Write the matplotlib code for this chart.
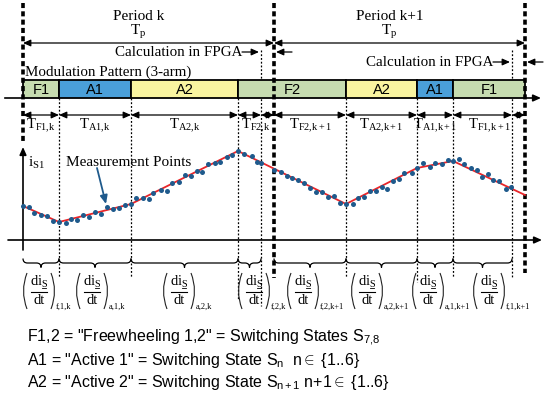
import matplotlib.pyplot as plt
from matplotlib.patches import Rectangle, PathPatch
from matplotlib.path import Path

plt.rcParams['mathtext.fontset'] = 'custom'
plt.rcParams['mathtext.rm'] = 'Liberation Serif'
plt.rcParams['mathtext.it'] = 'Liberation Serif:italic'
plt.rcParams['mathtext.sf'] = 'Liberation Sans'
plt.rcParams['mathtext.bf'] = 'Liberation Serif:bold'
SERIF = 'Liberation Serif'
SANS = 'Liberation Sans'

# time in drawing units, current as height above the time axis
period_edges = [23, 274, 525]
period_names = ['Period k', 'Period k+1']
calc_ends = [261, 512]
seg_start = [23, 59, 131, 238, 346, 417, 453]
seg_end = [59, 131, 238, 346, 417, 453, 525]
seg_names = ['F1', 'A1', 'A2', 'F2', 'A2', 'A1', 'F1']
state_colors = {'F1': '#c6dcb0', 'F2': '#c6dcb0', 'A1': '#4a9fd9', 'A2': '#f9f4a0'}

t_ranges = [(23, 59), (59, 131), (131, 238), (238, 274),
            (274, 346), (346, 417), (417, 453), (453, 525)]
t_subs = ['F1,k', 'A1,k', 'A2,k', 'F2,k', 'F2,k+1', 'A2,k+1', 'A1,k+1', 'F1,k+1']

brace_ranges = [(23, 59), (59, 131), (131, 238), (238, 261),
                (274, 346), (346, 417), (417, 453), (453, 512)]
d_subs = ['f,1,k', 'a,1,k', 'a,2,k', 'f,2,k', 'f,2,k+1', 'a,2,k+1', 'a,1,k+1', 'f,1,k+1']
d_x = [23, 76, 163, 238, 287, 351, 412, 473]

i_t = [23, 59, 131, 238, 346, 417, 453, 525]
i_val = [34, 18, 36, 89, 36, 72, 79, 45]

meas_t = [23, 29, 34, 41, 47, 53, 59, 66, 71, 77, 83, 89, 95, 101, 107, 113, 119, 125,
          131, 136, 143, 149, 153, 161, 167, 172, 179, 185, 191, 197, 202, 208, 215,
          220, 227, 232, 238, 244, 252, 257, 261, 274,
          281, 287, 292, 298, 304, 310, 316, 322, 328, 334, 340, 346, 353, 358, 364,
          370, 376, 382, 387, 393, 399, 404, 412, 417, 423, 430, 435, 442, 448, 453,
          459, 464, 471, 477, 482, 488, 493, 499, 506, 511]
meas_i = [34, 33, 27, 25, 24, 19, 18, 17, 21, 20, 25, 23, 28, 26, 33, 31, 32, 35,
          36, 42, 42, 41, 47, 50, 49, 57, 58, 65, 64, 69, 68, 76, 77,
          78, 83, 85, 89, 86, 84, 78, 77, 70,
          68, 64, 62, 60, 57, 52, 48, 48, 43, 44, 37, 36, 36, 42, 43,
          49, 49, 53, 51, 59, 61, 67, 67, 72, 77, 73, 77, 76, 80, 79,
          81, 76, 72, 70, 63, 66, 60, 59, 51, 53]

AX_Y = 240       # time axis of the current plot
BAR_TOP, BAR_BOT = 80, 98
T_ROW = 115
BRACE_Y = 263

fig = plt.figure(figsize=(5.46, 3.96), dpi=100)
ax = fig.add_axes([0, 0, 1, 1])
ax.set_xlim(0, 546)
ax.set_ylim(396, 0)
ax.axis('off')


def arrow(x0, y0, x1, y1, style='-|>', color='black', lw=0.9):
    ax.annotate('', xy=(x1, y1), xytext=(x0, y0),
                arrowprops=dict(arrowstyle=style + ',head_length=0.45,head_width=0.2',
                                color=color, lw=lw, shrinkA=0, shrinkB=0))


def sub(s):
    # keep commas tight inside mathtext subscripts
    return s.replace(',', '{,}')


# thick period lines
thick = dict(color='black', lw=2.6, ls=(0, (1.4, 0.9)), zorder=5)
ax.plot([23, 23], [3, 143], **thick)
ax.plot([274, 274], [3, 278], **thick)
ax.plot([525, 525], [3, 273], **thick)

# thin dotted lines at switching instants and calculation ends
dot = dict(color='black', lw=0.9, ls=(0, (1.5, 1.5)), zorder=1)
for x in [59, 131, 346, 453]:
    ax.plot([x, x], [BAR_BOT, 277], **dot)
ax.plot([417, 417], [BAR_BOT, 282], **dot)
ax.plot([238, 238], [BAR_BOT, 300], **dot)
ax.plot([261, 261], [50, 306], **dot)
ax.plot([512, 512], [50, 277], **dot)

# period headings
for k in range(2):
    x0, x1 = period_edges[k], period_edges[k + 1]
    xm = (x0 + x1) / 2 - 10
    ax.text(xm, 17, period_names[k], fontsize=11, family=SERIF, ha='center', va='center')
    ax.text(xm, 32, r'$\mathrm{T}_{\mathrm{p}}$', fontsize=11, ha='center', va='center')
    arrow(x0, 43, x1, 43, style='<|-|>')

# calculation in FPGA
ax.text(242, 52, 'Calculation in FPGA', fontsize=10.8, family=SERIF, ha='right', va='center')
arrow(242, 52, 259, 52)
arrow(292, 52, 276, 52)
ax.text(493, 62, 'Calculation in FPGA', fontsize=10.8, family=SERIF, ha='right', va='center')
arrow(493, 62, 510, 62)
arrow(543, 62, 527, 62)

ax.text(25, 72, 'Modulation Pattern (3-arm)', fontsize=10.8, family=SERIF, ha='left', va='center')

# modulation pattern bar
for s, e, n in zip(seg_start, seg_end, seg_names):
    ax.add_patch(Rectangle((s, BAR_TOP), e - s, BAR_BOT - BAR_TOP, facecolor=state_colors[n],
                           edgecolor='black', lw=1.3, zorder=3))
    ax.text((s + e) / 2, (BAR_TOP + BAR_BOT) / 2 + 1, n, fontsize=10.5, family=SANS,
            ha='center', va='center', zorder=4)
ax.plot([5, 23], [BAR_BOT, BAR_BOT], color='black', lw=1.2, zorder=3)
arrow(525, BAR_BOT, 541, BAR_BOT, lw=1.2)

# interval arrows and labels
marks = sorted(set(seg_start + seg_end + calc_ends + period_edges))
for a, b in zip(marks[:-1], marks[1:]):
    arrow(a, T_ROW, b, T_ROW, style='<|-|>')
for (a, b), s in zip(t_ranges, t_subs):
    ax.text((a + b) / 2, T_ROW + 11, r'$\mathrm{T}_{\mathrm{%s}}$' % sub(s), fontsize=10.5,
            ha='center', va='center')

# current plot axes
arrow(23, 250, 23, 147, lw=1.2)
arrow(8, AX_Y, 542, AX_Y, lw=1.2)
ax.text(28, 163, r'$\mathrm{i}_{\mathrm{S1}}$', fontsize=11, ha='left', va='center')

ax.plot(i_t, [AX_Y - v for v in i_val], color='#e8262a', lw=1.3, zorder=6)
ax.plot(meas_t, [AX_Y - v for v in meas_i], 'o', color='#1f5a8c', ms=3.6, mec='none', zorder=7)

ax.text(66, 162, 'Measurement Points', fontsize=11, family=SERIF, ha='left', va='center')
ax.annotate('', xy=(106, 204), xytext=(97, 168),
            arrowprops=dict(arrowstyle='-|>,head_length=0.5,head_width=0.22', color='#1f5a8c',
                            lw=1.3, shrinkA=0, shrinkB=0))


# braces
def brace(x0, x1, y=BRACE_Y, h=4.5):
    xm = (x0 + x1) / 2
    verts = [(x0, y - h), (x0, y), (x0 + h, y), (xm - h, y), (xm, y), (xm, y + h),
             (xm, y), (xm + h, y), (x1 - h, y), (x1, y), (x1, y - h)]
    codes = [Path.MOVETO, Path.CURVE3, Path.CURVE3, Path.LINETO, Path.CURVE3, Path.CURVE3,
             Path.CURVE3, Path.CURVE3, Path.LINETO, Path.CURVE3, Path.CURVE3]
    ax.add_patch(PathPatch(Path(verts, codes), facecolor='none', edgecolor='black', lw=0.9))


for (a, b) in brace_ranges:
    brace(a, b)


# derivative labels: (di_S/dt)_sub with tall thin parentheses
def paren(x, y0, y1, bulge):
    verts = [(x, y0), (x - bulge, (y0 + y1) / 2), (x, y1)]
    ax.add_patch(PathPatch(Path(verts, [Path.MOVETO, Path.CURVE3, Path.CURVE3]),
                           facecolor='none', edgecolor='#222222', lw=0.8))


for x, s in zip(d_x, d_subs):
    paren(x + 4, 273, 309, 7)
    paren(x + 28, 273, 309, -7)
    xc = x + 16
    ax.text(xc, 282, r'$\mathrm{di}_{\mathrm{S}}$', fontsize=10.5, ha='center', va='center')
    ax.plot([xc + 3, xc + 7], [288, 288], color='black', lw=0.6)
    ax.plot([xc - 8, xc + 8], [292, 292], color='black', lw=0.8)
    ax.text(xc, 301, 'dt', fontsize=10.5, family=SERIF, ha='center', va='center')
    ax.text(x + 33, 307, s, fontsize=6, family=SERIF, ha='left', va='center')

# legend lines
ax.text(27, 337, 'F1,2 = "Freewheeling 1,2" = Switching States $\\mathsf{S}_{\\mathsf{7{,}8}}$',
        fontsize=11.5, family=SANS, ha='left', va='center')
ax.text(27, 361, 'A1 = "Active 1" = Switching State $\\mathsf{S}_{\\mathsf{n}}$  n$\\in$ {1..6}',
        fontsize=11.5, family=SANS, ha='left', va='center')
ax.text(27, 383, 'A2 = "Active 2" = Switching State $\\mathsf{S}_{\\mathsf{n+1}}$ n+1$\\in$ {1..6}',
        fontsize=11.5, family=SANS, ha='left', va='center')

fig.savefig('out.png', dpi=100)
